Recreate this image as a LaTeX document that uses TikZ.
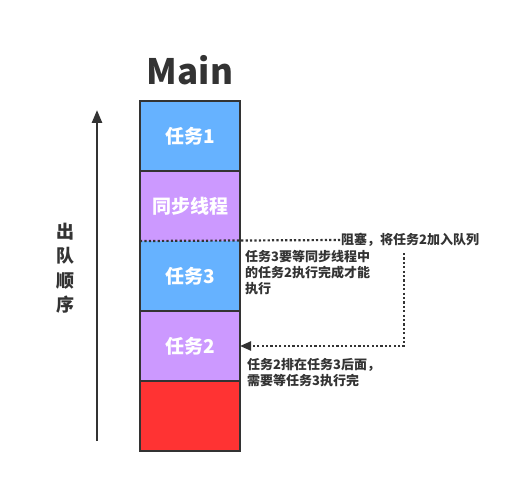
\documentclass[tikz,border=0pt]{standalone}
\usepackage{fontspec}
\setmainfont{Noto Sans CJK SC}
\usepackage{xcolor}
\usetikzlibrary{arrows.meta,positioning}
\definecolor{taskblue}{RGB}{102,178,255}
\definecolor{syncpurple}{RGB}{204,153,255}
\definecolor{tailred}{RGB}{255,51,51}
\definecolor{inkgray}{RGB}{51,51,51}

\begin{document}
\begin{tikzpicture}[
    x=1pt,y=-1pt,
    slot/.style={rectangle,minimum width=100pt,minimum height=70pt,inner sep=0pt,
      outer sep=0pt,text=white,font=\fontsize{19}{22}\selectfont\bfseries},
    note/.style={inner sep=0pt,align=left,text=inkgray,
      font=\fontsize{13}{16}\selectfont\bfseries},
    edge/.style={draw=inkgray,line width=2.6pt},
    dots/.style={draw=inkgray,line width=2.2pt,dash pattern=on 2.2pt off 2.2pt},
    arrow/.style={-{Triangle[length=13pt,width=10pt]},inkgray,line width=2.6pt}
  ]
    \useasboundingbox (0,0) rectangle (517,484);
    \node[font=\fontsize{35}{40}\selectfont\bfseries,text=inkgray] (title) at (190,70) {Main};

    \node[slot,fill=taskblue] (task1) at (190,136) {任务1};
    \node[slot,fill=syncpurple,below=0pt of task1] (sync) {同步线程};
    \node[slot,fill=taskblue,below=0pt of sync] (task3) {任务3};
    \node[slot,fill=syncpurple,below=0pt of task3] (task2) {任务2};
    \node[slot,fill=tailred,below=0pt of task2] (tail) {};

    % column outline and separators
    \draw[edge] (task1.north west) rectangle (tail.south east);
    \draw[edge] (task1.south west) -- (task1.south east);
    \draw[edge] (task3.south west) -- (task3.south east);
    \draw[edge] (task2.south west) -- (task2.south east);

    % dequeue order
    \coordinate (qbot) at (97,441);
    \coordinate (qtop) at (97,110);
    \draw[arrow] (qbot) -- (qtop);
    \node[note,align=center,font=\fontsize{18}{24.5}\selectfont\bfseries] (order) at (65,268) {出\\队\\顺\\序};

    % blocking notes
    \node[note,anchor=west] (block) at (341,240) {阻塞，将任务2加入队列};
    \draw[dots] (sync.south west) -- (block.west);
    \node[note,anchor=north west] (wait3) at (245,250) {任务3要等同步线程中\\的任务2执行完成才能\\执行};
    \coordinate (hook) at (404,253);
    \draw[dots,arrow,-{Triangle[length=11pt,width=9pt]},line width=2.2pt] (hook) |- (task2.east);
    \node[note,anchor=north west] (wait2) at (247,358) {任务2排在任务3后面，\\需要等任务3执行完};
  \end{tikzpicture}
\end{document}
